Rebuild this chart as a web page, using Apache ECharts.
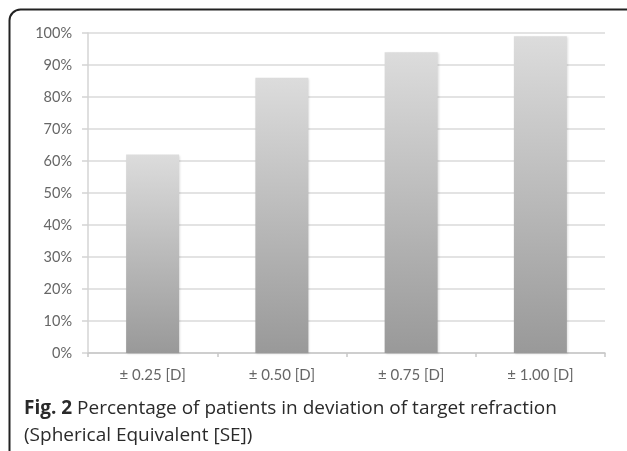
<!DOCTYPE html>
<html>
<head>
<meta charset="utf-8">
<script src="https://cdn.jsdelivr.net/npm/echarts@6/dist/echarts.min.js"></script>
<style>
html,body{margin:0;padding:0;background:#fff;}
#c{width:627px;height:451px;}
</style>
</head>
<body>
<div id="c"></div>
<script>
const categories = ['± 0.25 [D]', '± 0.50 [D]', '± 0.75 [D]', '± 1.00 [D]'];
const percentValues = [62, 86, 94, 99];
const yTickStep = 10;
const captionBold = 'Fig. 2';
const captionLine1 = ' Percentage of patients in deviation of target refraction';
const captionLine2 = '(Spherical Equivalent [SE])';

const chart = echarts.init(document.getElementById('c'), null, {renderer: 'canvas'});
chart.setOption({
  backgroundColor: '#fff',
  animation: false,
  grid: {left: 88, right: 22, top: 33, bottom: 98},
  xAxis: {
    type: 'category',
    data: categories,
    axisLine: {lineStyle: {color: '#c8c8c8', width: 1.5}},
    axisTick: {show: true, length: 4, lineStyle: {color: '#c8c8c8', width: 1.5}},
    axisLabel: {color: '#666', fontFamily: 'Lato', fontSize: 15, margin: 15}
  },
  yAxis: {
    type: 'value', min: 0, max: 100, interval: yTickStep,
    axisLine: {show: true, lineStyle: {color: '#d4d4d4', width: 1.5}},
    axisTick: {show: true, length: 6, lineStyle: {color: '#d4d4d4', width: 1.5}},
    axisLabel: {formatter: '{value}%', color: '#666', fontFamily: 'Lato', fontSize: 14.5, margin: 16},
    splitLine: {lineStyle: {color: '#dadada', width: 1.5}}
  },
  series: [{
    type: 'bar',
    data: percentValues,
    barWidth: 53,
    itemStyle: {
      color: new echarts.graphic.LinearGradient(0, 0, 0, 1, [
        {offset: 0, color: '#dcdcdc'},
        {offset: 1, color: '#999999'}
      ]),
      shadowColor: 'rgba(0,0,0,0.12)', shadowBlur: 2, shadowOffsetX: 1, shadowOffsetY: 1
    }
  }],
  graphic: [
    {type: 'rect', shape: {x: 9.5, y: 9.5, width: 640, height: 520, r: 11},
     style: {fill: 'none', stroke: '#222', lineWidth: 2}},
    {type: 'text', left: 24, top: 399, style: {
      rich: {b: {fontWeight: 'bold', fontSize: 19, fontFamily: 'Open Sans', fill: '#2a2a2a'},
             n: {fontSize: 19, fontFamily: 'Open Sans', fill: '#2a2a2a'}},
      text: '{b|' + captionBold + '}{n|' + captionLine1 + '}'
    }},
    {type: 'text', left: 24, top: 426, style: {
      text: captionLine2, fontSize: 19, fontFamily: 'Open Sans', fill: '#2a2a2a'
    }}
  ]
});
</script>
</body>
</html>
